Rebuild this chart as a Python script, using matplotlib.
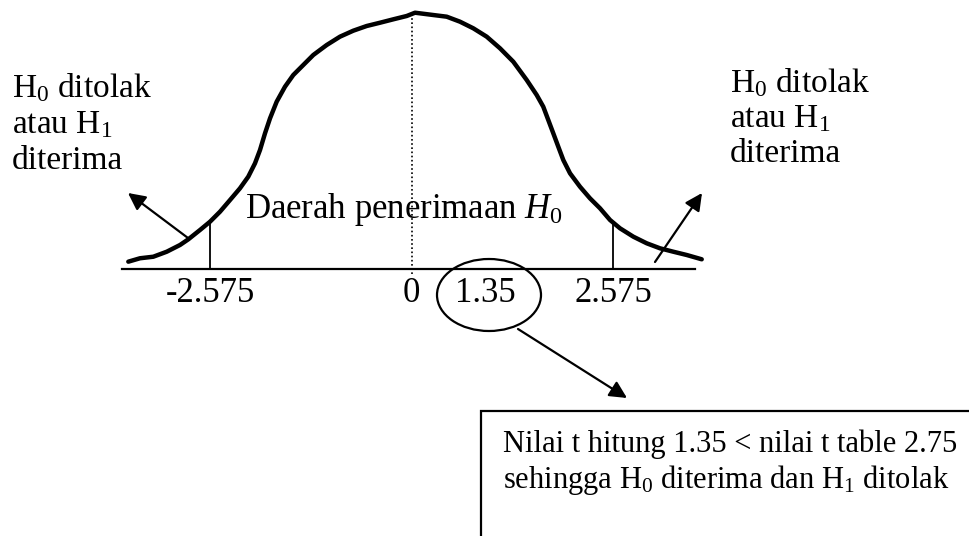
import numpy as np
import matplotlib.pyplot as plt
from matplotlib.patches import Ellipse, Rectangle

plt.rcParams['font.family'] = 'Liberation Serif'
plt.rcParams['mathtext.fontset'] = 'custom'
plt.rcParams['mathtext.rm'] = 'Liberation Serif'
plt.rcParams['mathtext.it'] = 'Liberation Serif:italic'

# bell curve (z units, relative height)
curve_z = [-3.619, -3.470, -3.300, -3.128, -2.958, -2.852, -2.703, -2.575, -2.447, -2.319,
           -2.192, -2.086, -2.000, -1.936, -1.872, -1.808, -1.723, -1.617, -1.511, -1.383,
           -1.255, -1.084, -0.914, -0.744, -0.573, -0.403, -0.233, -0.061, 0.045,
           0.279, 0.450, 0.620, 0.790, 0.961, 1.131, 1.301, 1.472, 1.600, 1.684,
           1.748, 1.812, 1.876, 1.940, 2.026, 2.153, 2.281, 2.409, 2.537, 2.665,
           2.835, 3.006, 3.176, 3.346, 3.517, 3.709]
curve_h = [0.0114, 0.0167, 0.0191, 0.0269, 0.0374, 0.0462, 0.0607, 0.0736, 0.0892, 0.1074,
           0.1256, 0.1437, 0.1645, 0.1852, 0.2112, 0.2345, 0.2604, 0.2837, 0.3019, 0.3175,
           0.3331, 0.3486, 0.3616, 0.3709, 0.3782, 0.3833, 0.3886, 0.3938, 0.3989,
           0.3953, 0.3927, 0.3849, 0.3746, 0.3616, 0.3435, 0.3226, 0.2942, 0.2708, 0.2526,
           0.2319, 0.2112, 0.1903, 0.1696, 0.1489, 0.1281, 0.1100, 0.0945, 0.0763, 0.0633,
           0.0503, 0.0400, 0.0322, 0.0269, 0.0218, 0.0151]

crit = 2.575
tick_vals = [-2.575, 0, 2.575]
tick_labels = ['-2.575', '0', '2.575']
t_label = '1.35'

side_lines = [r'$\mathrm{H}_0$ ditolak', r'atau $\mathrm{H}_1$', 'diterima']
region_label = r'Daerah penerimaan $H_0$'
box_lines = ['Nilai t hitung 1.35 < nilai t table 2.75',
             r'sehingga $\mathrm{H}_0$ diterima dan $\mathrm{H}_1$ ditolak']

# pixel layout -> data units
W, H = 969, 536
zero_px, ppu = 411.5, 78.25
base_px, hpp = 269, 0.40 / 257


def px(x, y):
    return ((x - zero_px) / ppu, (base_px - y) * hpp)


fig = plt.figure(figsize=(W / 100, H / 100), dpi=100)
ax = fig.add_axes([0, 0, 1, 1])
ax.set_xlim(px(0, 0)[0], px(W, 0)[0])
ax.set_ylim(px(0, H)[1], px(0, 0)[1])
ax.axis('off')

# curve + axis
ax.plot(curve_z, curve_h, color='black', lw=3.2, solid_capstyle='round', solid_joinstyle='round')
ax.plot([px(122, 0)[0], px(695, 0)[0]], [0, 0], color='black', lw=1.6)
for c in (-crit, crit):
    ax.plot([c, c], [0, np.interp(c, curve_z, curve_h)], color='black', lw=1.3)
ax.plot([0, 0], [px(0, 274)[1], max(curve_h)], color='black', lw=1.2, ls=(0, (1, 1.5)))

# tick labels
y_lbl = px(0, 302)[1]
for v, s in zip(tick_vals, tick_labels):
    ax.text(v, y_lbl, s, ha='center', va='baseline', fontsize=25)
ax.text(*px(485, 302), t_label, ha='center', va='baseline', fontsize=25)
ax.add_patch(Ellipse(px(489, 295), 104 / ppu, 72 * hpp, fill=False, lw=1.6, color='black'))

# side notes
for i, s in enumerate(side_lines):
    ax.text(*px(12, 97 + 36 * i), s, ha='left', va='baseline', fontsize=24)
    ax.text(*px(730, 92 + 35 * i), s, ha='left', va='baseline', fontsize=24)
ax.text(*px(245, 218), region_label, ha='left', va='baseline', fontsize=25)

# arrows
arw = dict(arrowstyle='-|>', color='black', lw=1.6, mutation_scale=26, shrinkA=0, shrinkB=0)
ax.annotate('', xy=px(128, 193), xytext=px(188, 238), arrowprops=arw)
ax.annotate('', xy=px(702, 193), xytext=px(655, 262), arrowprops=arw)
ax.annotate('', xy=px(627, 398), xytext=px(518, 329), arrowprops=arw)

# conclusion box
ax.add_patch(Rectangle(px(481, 700), 700 / ppu, 289 * hpp, fill=False, lw=1.6, color='black'))
for i, s in enumerate(box_lines):
    ax.text(*px(503, 452 + 36 * i), s, ha='left', va='baseline', fontsize=22)

fig.savefig('out.png', dpi=100)
